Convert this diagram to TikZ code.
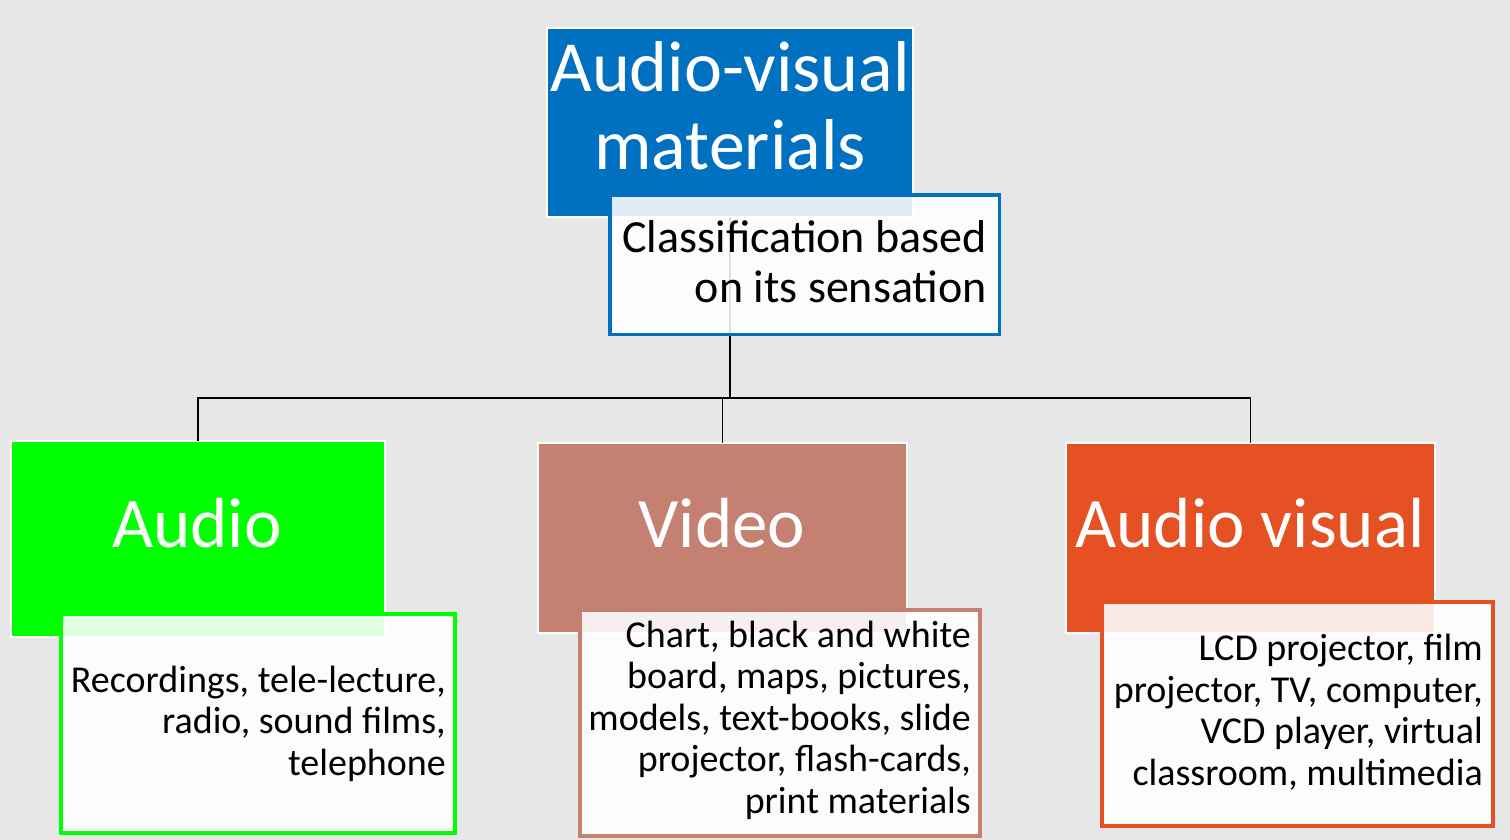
\documentclass[tikz,border=0pt]{standalone}
\usepackage{fontspec}
\setmainfont{Carlito}
\definecolor{bgc}{RGB}{231,231,231}
\definecolor{topblue}{RGB}{0,112,192}
\definecolor{audgreen}{RGB}{0,255,0}
\definecolor{vidrose}{RGB}{196,128,112}
\definecolor{avorange}{RGB}{229,81,34}
\begin{document}
\begin{tikzpicture}[x=1pt,y=-1pt,
  mainbox/.style={draw=white,line width=1.5pt,inner sep=0pt,outer sep=0pt},
  detailbox/.style={fill=white,fill opacity=0.88,line width=4pt,inner sep=0pt,outer sep=0pt},
  bigtext/.style={text=white,font=\fontsize{71}{78}\selectfont,inner sep=0pt,align=center},
  dettext/.style={text=black,font=\fontsize{38}{41.5}\selectfont,inner sep=0pt,align=right,anchor=base east},
  conn/.style={draw=black,line width=1.5pt}]
\fill[bgc] (0,0) rectangle (1510,840);
\useasboundingbox (0,0) rectangle (1510,840);
\coordinate (bus) at (730,398);
% boxes
\node[mainbox,fill=topblue,minimum width=366,minimum height=189] (top) at (730,122.5) {};
\node[mainbox,fill=audgreen,minimum width=374,minimum height=196] (audio) at (198,539) {};
\node[mainbox,fill=vidrose,minimum width=369,minimum height=190] (video) at (722.5,538) {};
\node[mainbox,fill=avorange,minimum width=369,minimum height=190] (av) at (1250.5,538) {};
% connectors
\draw[conn] (top.south) -- (bus);
\draw[conn] (audio.north) |- (bus) -| (av.north);
\draw[conn] (video.north) -- (video.north |- bus);
% texts of main boxes (base = last line baseline)
\node[bigtext,font=\fontsize{72}{78}\selectfont,anchor=base] (toptext) at (730,170) {Audio-visual\\materials};
\node[bigtext,anchor=base] (audiotext) at (197,547) {Audio};
\node[bigtext,anchor=base] (videotext) at (722,547) {Video};
\node[bigtext,anchor=base] (avtext) at (1250,547) {Audio visual};
% detail boxes
\node[detailbox,draw=topblue,line width=3.5pt,minimum width=389.5,minimum height=139.5] (cls) at (804.5,264.5) {};
\node[detailbox,draw=audgreen,minimum width=394,minimum height=219] (audiod) at (258,723.5) {};
\node[detailbox,draw=vidrose,minimum width=400,minimum height=226] (videod) at (780,723) {};
\node[detailbox,draw=avorange,minimum width=391,minimum height=224] (avd) at (1297.5,714) {};
% detail texts
\node[dettext,font=\fontsize{46}{50}\selectfont] (clstext) at (987,302) {Classification based\\on its sensation};
\node[dettext] (audiodtext) at (446,775) {Recordings, tele-lecture,\\radio, sound films,\\telephone};
\node[dettext] (videodtext) at (971,813) {Chart, black and white\\board, maps, pictures,\\models, text-books, slide\\projector, flash-cards,\\print materials};
\node[dettext] (avdtext) at (1483,785) {LCD projector, film\\projector, TV, computer,\\VCD player, virtual\\classroom, multimedia};
\end{tikzpicture}
\end{document}
